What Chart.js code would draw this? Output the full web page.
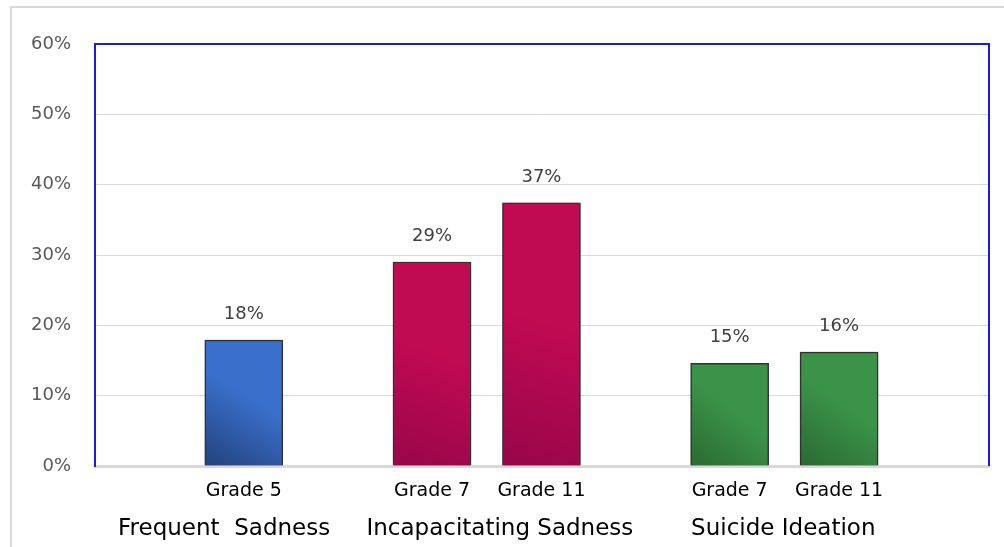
<!DOCTYPE html>
<html>
<head>
<meta charset="utf-8">
<script src="https://cdn.jsdelivr.net/npm/chart.js@4/dist/chart.umd.min.js"></script>
<style>
  html, body { margin: 0; padding: 0; background: #fff; }
  #wrap { position: relative; width: 1004px; height: 547px; overflow: hidden; }
  #frame {
    position: absolute; left: 10px; top: 6px; right: -4px; bottom: -4px;
    border-left: 2px solid #d9d9d9; border-top: 2px solid #d9d9d9;
  }
  canvas { position: absolute; left: 0; top: 0; }
</style>
</head>
<body>
<div id="wrap">
  <div id="frame"></div>
  <canvas id="chart" width="1004" height="547"></canvas>
</div>
<script>
// bars: one per grade, grouped by measure
const gradeLabels = ["Grade 5", "Grade 7", "Grade 11", "Grade 7", "Grade 11"];
const barSlots = [1.36, 3.08, 4.08, 5.8, 6.8];
const percentages = [17.9, 29.0, 37.4, 14.6, 16.2];
const barMeasure = [0, 1, 1, 2, 2];

// measure names under each group of bars
const measureNames = ["Frequent  Sadness", "Incapacitating Sadness", "Suicide Ideation"];
const measureCenters = [1.18, 3.70, 6.29];

const yTicks = [0, 10, 20, 30, 40, 50, 60];

// dark -> light for each measure
const measureColors = [
  ["#22427c", "#3a6fcb"],
  ["#98064a", "#c00a52"],
  ["#2a6a33", "#3b9348"]
];

const FONT = "'DejaVu Sans', sans-serif";

function barFill(ctx) {
  const i = ctx.dataIndex;
  if (i === undefined) return measureColors[0][1];
  const pair = measureColors[barMeasure[i]];
  const xs = ctx.chart.scales.x, ys = ctx.chart.scales.y;
  if (!xs || !ys) return pair[1];
  const cx = xs.getPixelForValue(barSlots[i]);
  const top = ys.getPixelForValue(percentages[i]);
  const bottom = ys.getPixelForValue(0);
  if (![cx, top, bottom].every(Number.isFinite)) return pair[1];
  const g = ctx.chart.ctx.createLinearGradient(cx - 39, bottom, cx + 39, top);
  g.addColorStop(0, pair[0]);
  g.addColorStop(0.55, pair[1]);
  g.addColorStop(1, pair[1]);
  return g;
}

const barShadow = {
  id: "barShadow",
  beforeDatasetsDraw(chart) {
    const c = chart.ctx;
    c.save();
    c.shadowColor = "rgba(0,0,0,0.35)";
    c.shadowBlur = 6;
  },
  afterDatasetsDraw(chart) {
    chart.ctx.restore();
  }
};

const extras = {
  id: "extras",
  afterDraw(chart) {
    const c = chart.ctx;
    const area = chart.chartArea;
    const xs = chart.scales.x;

    // blue frame on top and right of the plot
    c.save();
    c.strokeStyle = "#1a1aee";
    c.lineWidth = 2;
    c.beginPath();
    c.moveTo(area.left, area.top);
    c.lineTo(area.right, area.top);
    c.lineTo(area.right, area.bottom);
    c.stroke();

    // value labels above the bars
    c.font = "18px " + FONT;
    c.fillStyle = "#404040";
    c.textAlign = "center";
    c.textBaseline = "alphabetic";
    chart.getDatasetMeta(0).data.forEach((bar, i) => {
      c.fillText(Math.round(percentages[i]) + "%", bar.x, bar.y - 21);
    });

    // grade names under each bar
    c.font = "19px " + FONT;
    c.fillStyle = "#000";
    barSlots.forEach((v, i) => {
      c.fillText(gradeLabels[i], xs.getPixelForValue(v), 496);
    });

    // measure names
    c.font = "23px " + FONT;
    measureNames.forEach((name, i) => {
      c.fillText(name, xs.getPixelForValue(measureCenters[i]), 535);
    });
    c.restore();
  }
};

const chart = new Chart(document.getElementById("chart"), {
  type: "bar",
  data: {
    datasets: [{
      data: barSlots.map((x, i) => ({ x: x, y: percentages[i] })),
      backgroundColor: barFill,
      borderColor: "#3a3a3a",
      borderWidth: 1.5,
      barThickness: 78
    }]
  },
  options: {
    responsive: false,
    animation: false,
    devicePixelRatio: 1,
    layout: { padding: { left: 0, top: 44, right: 15, bottom: 0 } },
    plugins: { legend: { display: false }, tooltip: { enabled: false } },
    scales: {
      x: {
        type: "linear",
        min: 0,
        max: 8.17,
        offset: false,
        z: 1,
        grid: { display: false, drawTicks: false, offset: false },
        border: { color: "#d9d9d9", width: 3 },
        ticks: { display: false },
        afterFit(scale) { scale.height = 81; }
      },
      y: {
        min: 0,
        max: 60,
        afterBuildTicks(scale) { scale.ticks = yTicks.map(v => ({ value: v })); },
        grid: { color: "#d9d9d9", lineWidth: 1, drawTicks: false },
        border: { color: "#1a1aee", width: 2 },
        ticks: {
          padding: 24,
          color: "#595959",
          font: { family: FONT, size: 18 },
          callback: v => v + "%"
        },
        afterFit(scale) { scale.width = 95; }
      }
    }
  },
  plugins: [barShadow, extras]
});
// gradients need laid-out scales, so resolve them once more
chart.update("none");
</script>
</body>
</html>
